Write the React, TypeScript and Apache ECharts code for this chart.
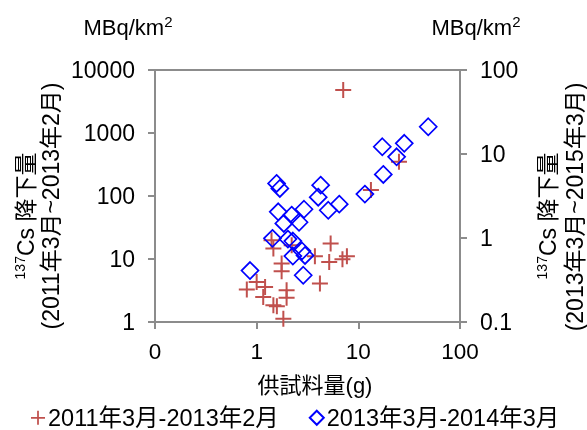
import React, { useEffect, useRef } from "react";
import * as echarts from "echarts";

const seriesNames = ["2011年3月-2013年2月", "2013年3月-2014年3月"];

// 2011.3-2013.2 (left axis)
const redX = [7.1, 25.1, 13.3, 5.34, 3.74, 5.17, 6.98, 7.72, 4.19, 1.4, 1.46, 1.76, 1.76, 2.21, 0.8, 1.0, 1.21, 1.16, 1.46, 1.58, 1.97, 1.97, 1.83];
const redY = [4830, 350, 124, 17.6, 11.1, 9.0, 9.9, 11.1, 4.08, 19.9, 14.7, 8.5, 6.4, 16.6, 3.27, 4.32, 3.6, 2.5, 1.84, 1.78, 3.19, 2.43, 1.13];

// 2013.3-2014.3 (right axis)
const blueX = [48.7, 28.3, 17.2, 23.8, 17.6, 11.6, 4.26, 4.03, 6.49, 5.06, 2.92, 2.61, 1.57, 1.69, 1.63, 2.21, 1.85, 1.43, 2.03, 2.27, 2.79, 2.99, 2.87, 0.86, 2.27];
const blueY = [21.1, 13.4, 12.2, 9.26, 5.71, 3.33, 4.26, 3.06, 2.53, 2.14, 2.2, 1.54, 4.46, 3.89, 2.05, 1.87, 1.49, 0.99, 0.97, 0.61, 0.7, 0.62, 0.36, 0.41, 0.92];

const xRange = [0.1, 100];
const leftRange = [1, 10000];
const rightRange = [0.1, 100];

const unitLabel = "MBq/km²";
const xTitle = "供試料量(g)";
const leftTitle2 = "(2011年3月~2013年2月)";
const rightTitle2 = "(2013年3月~2015年3月)";
const titleMain = "Cs 降下量";
const titleSup = "137";

const FONT = "'Liberation Sans', Arial, 'Noto Sans CJK JP', sans-serif";
const AX = "#8c8c8c";
const PLUS = "path://M7,0H9V7H16V9H9V16H7V9H0V7H7Z";

export default function App() {
  const ref = useRef<HTMLDivElement>(null);
  useEffect(() => {
    if (!ref.current) return;
    const chart = echarts.init(ref.current, undefined, { renderer: "svg" });
    const fmtX = (v: number) => (v < 0.5 ? "0" : String(Math.round(v)));
    const fmtY = (v: number) => (v < 0.5 ? String(Math.round(v * 10) / 10) : String(Math.round(v)));
    const axisCommon = {
      axisLine: { show: true, lineStyle: { color: AX, width: 2 } },
      axisTick: { show: true, length: 7, lineStyle: { color: AX, width: 2 } },
      minorTick: { show: false },
      splitLine: { show: false },
    };
    const rotTitle = (x: number, y: number, text: string, rich = false) => ({
      type: "text",
      x,
      y,
      rotation: Math.PI / 2,
      style: rich
        ? {
            text: `{sup|${titleSup}}{m|${titleMain}}`,
            align: "center",
            verticalAlign: "middle",
            rich: {
              sup: { fontSize: 14, fontFamily: FONT, fill: "#000", verticalAlign: "top", lineHeight: 26 },
              m: { fontSize: 23, fontFamily: FONT, fill: "#000", lineHeight: 26 },
            },
          }
        : {
            text,
            font: `23px ${FONT}`,
            fill: "#000",
            align: "center",
            verticalAlign: "middle",
          },
    });
    const unit = (x: number) => ({
      type: "text",
      x,
      y: 27,
      style: {
        text: "{m|MBq/km}{s|2}",
        align: "center",
        verticalAlign: "middle",
        rich: {
          m: { fontSize: 22, fontFamily: FONT, fill: "#000", lineHeight: 26 },
          s: { fontSize: 15, fontFamily: FONT, fill: "#000", verticalAlign: "top", lineHeight: 26 },
        },
      },
    });
    chart.setOption({
      animation: false,
      textStyle: { fontFamily: FONT },
      grid: { left: 155, right: 127, top: 70, bottom: 108, show: true, borderColor: AX, borderWidth: 2, backgroundColor: "transparent" },
      xAxis: {
        type: "log",
        logBase: 10,
        min: xRange[0],
        max: xRange[1],
        ...axisCommon,
        axisLabel: { fontSize: 22.5, color: "#000", margin: 18, fontFamily: FONT, formatter: fmtX },
      },
      yAxis: [
        {
          type: "log",
          logBase: 10,
          min: leftRange[0],
          max: leftRange[1],
          position: "left",
          ...axisCommon,
          axisLabel: { fontSize: 23, color: "#000", margin: 20, fontFamily: FONT, formatter: fmtY },
        },
        {
          type: "log",
          logBase: 10,
          min: rightRange[0],
          max: rightRange[1],
          position: "right",
          ...axisCommon,
          axisLabel: { fontSize: 23, color: "#000", margin: 20, fontFamily: FONT, formatter: fmtY },
        },
      ],
      legend: {
        left: 26,
        top: 401,
        itemGap: 30,
        itemWidth: 14,
        itemHeight: 14,
        textStyle: { fontSize: 23.5, color: "#000", fontFamily: FONT, padding: [0, 0, 0, -2] },
        data: [
          { name: seriesNames[0], icon: PLUS },
          { name: seriesNames[1], icon: "diamond" },
        ],
      },
      series: [
        {
          name: seriesNames[0],
          type: "scatter",
          xAxisIndex: 0,
          yAxisIndex: 0,
          symbol: PLUS,
          symbolSize: 16,
          itemStyle: { color: "#c0504d", opacity: 1 },
          data: redX.map((x, i) => [x, redY[i]]),
        },
        {
          name: seriesNames[1],
          type: "scatter",
          xAxisIndex: 0,
          yAxisIndex: 1,
          symbol: "diamond",
          symbolSize: 17,
          itemStyle: { color: "rgba(255,255,255,0)", borderColor: "#0000ff", borderWidth: 1.7, opacity: 1 },
          data: blueX.map((x, i) => [x, blueY[i]]),
        },
      ],
      graphic: [
        unit(128),
        unit(476),
        { type: "text", x: 315, y: 385, style: { text: xTitle, font: `22px ${FONT}`, fill: "#000", align: "center", verticalAlign: "middle" } },
        rotTitle(26, 216, "", true),
        rotTitle(51, 206, leftTitle2),
        rotTitle(548, 216, "", true),
        rotTitle(575, 207, rightTitle2),
      ],
    });
    return () => chart.dispose();
  }, []);
  return <div ref={ref} style={{ position: "fixed", left: 0, top: 0, width: 587, height: 430 }} />;
}
